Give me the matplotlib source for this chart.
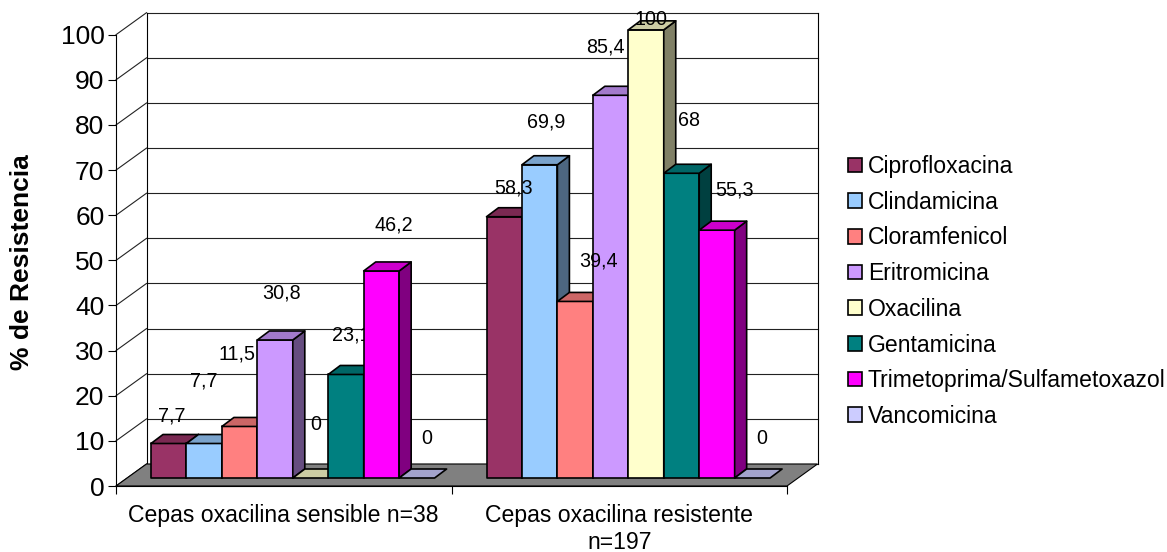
import matplotlib
matplotlib.use('Agg')
import matplotlib.pyplot as plt
from matplotlib.patches import Polygon, Patch
import numpy as np

plt.rcParams['font.family'] = ['Liberation Sans', 'DejaVu Sans']

# datos
categorias = ['Cepas oxacilina sensible n=38', 'Cepas oxacilina resistente\nn=197']
antibioticos = ['Ciprofloxacina', 'Clindamicina', 'Cloramfenicol', 'Eritromicina',
                'Oxacilina', 'Gentamicina', 'Trimetoprima/Sulfametoxazol', 'Vancomicina']
sensible = [7.7, 7.7, 11.5, 30.8, 0, 23.1, 46.2, 0]
resistente = [58.3, 69.9, 39.4, 85.4, 100, 68, 55.3, 0]
colores = ['#993366', '#99CCFF', '#FF8080', '#CC99FF', '#FFFFCC', '#008080', '#FF00FF', '#CCCCFF']

W, H = 1167, 552
# plano frontal en pixeles
LEFT, RIGHT, TOP, BOTTOM = 116, 787, 34.7, 486
PX_X = (RIGHT - LEFT) / 2      # px por categoria
PX_Y = (BOTTOM - TOP) / 100    # px por unidad de %

# desplazamientos de perspectiva, en unidades de datos
WALL_DX, WALL_DY = 30.5 / PX_X, 22 / PX_Y
BAR_DX, BAR_DY = 12 / PX_X, 9 / PX_Y
BAR_W = 35.45 / PX_X
BAR_PAD = 35 / PX_X
BAR_BASE = 8 / PX_Y
BAR_SCALE = 0.993

# desplazamiento de cada etiqueta respecto a la cima de su barra (px)
offsets_sensible = [(3, 27.5), (0, 62.5), (-2.5, 72.5), (6, 47), (5, 54), (5, 39.5), (12, 46), (10, 40)]
offsets_resistente = [(9, 29), (6, 43), (23, 40.5), (-5, 48), (5, 10), (8, 53), (18, 40), (9, 40)]


def shade(color, k):
    rgb = np.array(matplotlib.colors.to_rgb(color))
    return tuple(rgb * k)


def draw_bar(ax, x0, value, color, z):
    y0 = BAR_BASE
    y1 = y0 + value * BAR_SCALE
    x1 = x0 + BAR_W
    style = dict(edgecolor='black', linewidth=1.2, joinstyle='round', clip_on=False, zorder=z)
    if value > 0:
        ax.add_patch(Polygon([(x0, y0), (x1, y0), (x1, y1), (x0, y1)], facecolor=color, **style))
        ax.add_patch(Polygon([(x1, y0), (x1 + BAR_DX, y0 + BAR_DY), (x1 + BAR_DX, y1 + BAR_DY), (x1, y1)],
                             facecolor=shade(color, 0.5), **style))
    ax.add_patch(Polygon([(x0, y1), (x1, y1), (x1 + BAR_DX, y1 + BAR_DY), (x0 + BAR_DX, y1 + BAR_DY)],
                         facecolor=shade(color, 0.8), **style))


fig = plt.figure(figsize=(W / 100, H / 100), dpi=100, facecolor='white')
ax = fig.add_axes([LEFT / W, 1 - BOTTOM / H, (RIGHT - LEFT) / W, (BOTTOM - TOP) / H])
ax.patch.set_visible(False)
ax.set_xlim(0, 2)
ax.set_ylim(0, 100)

for s in ['top', 'right']:
    ax.spines[s].set_visible(False)
for s in ['left', 'bottom']:
    ax.spines[s].set_linewidth(0.8)
    ax.spines[s].set_zorder(30)

# ejes y etiquetas
ax.set_yticks(np.arange(0, 101, 10))
ax.tick_params(axis='y', labelsize=19, length=5.8, width=0.8, pad=2.5)
ax.set_xticks([0, 1, 2])
ax.set_xticklabels([])
ax.set_xticks([0.5, 1.5], minor=True)
ax.set_xticklabels(categorias, minor=True, fontsize=16.6)
ax.tick_params(axis='x', which='major', length=5.8, width=0.8)
ax.tick_params(axis='x', which='minor', length=0, pad=13)
ax.set_ylabel('% de Resistencia', fontsize=19, fontweight='bold')
ax.yaxis.set_label_coords(-0.122, 0.496)

# paredes del fondo
for v in np.arange(0, 101, 10):
    ax.plot([WALL_DX, 2 + WALL_DX], [v + WALL_DY, v + WALL_DY], color='#222222', lw=0.8, clip_on=False, zorder=1)
    ax.plot([0, WALL_DX], [v, v + WALL_DY], color='#222222', lw=0.8, clip_on=False, zorder=1)
for xw in [WALL_DX, 2 + WALL_DX]:
    ax.plot([xw, xw], [WALL_DY, 100 + WALL_DY], color='black', lw=0.8, clip_on=False, zorder=1)

# piso
ax.add_patch(Polygon([(0, 0), (WALL_DX, WALL_DY), (2 + WALL_DX, WALL_DY), (2, 0)],
                     facecolor='#808080', edgecolor='black', linewidth=0.8, clip_on=False, zorder=2))

# barras
for g, (valores, offsets) in enumerate([(sensible, offsets_sensible), (resistente, offsets_resistente)]):
    for i, v in enumerate(valores):
        x0 = g + BAR_PAD + i * BAR_W
        z = 5 + g * 10 + i * 0.1
        draw_bar(ax, x0, v, colores[i], z)
        # la etiqueta de 23,1 queda detras de la barra siguiente
        label_z = z + 0.05 if v == 23.1 else 40
        dx, dy = offsets[i]
        ax.annotate(str(v).replace('.', ',') if v % 1 else str(int(v)),
                    xy=(x0 + BAR_W / 2, BAR_BASE + v * BAR_SCALE), xytext=(dx, dy),
                    textcoords='offset pixels', ha='center', va='center',
                    fontsize=14.2, color='black', zorder=label_z, annotation_clip=False)

# leyenda
handles = [Patch(facecolor=c, edgecolor='black', linewidth=1.2) for c in colores]
fig.legend(handles, antibioticos, loc='center left', bbox_to_anchor=(848 / W, 1 - 291.5 / H),
           frameon=False, fontsize=16.6, handlelength=0.6, handleheight=0.6,
           handletextpad=0.26, labelspacing=0.55, borderpad=0, borderaxespad=0)

fig.savefig('out.png', dpi=100)
